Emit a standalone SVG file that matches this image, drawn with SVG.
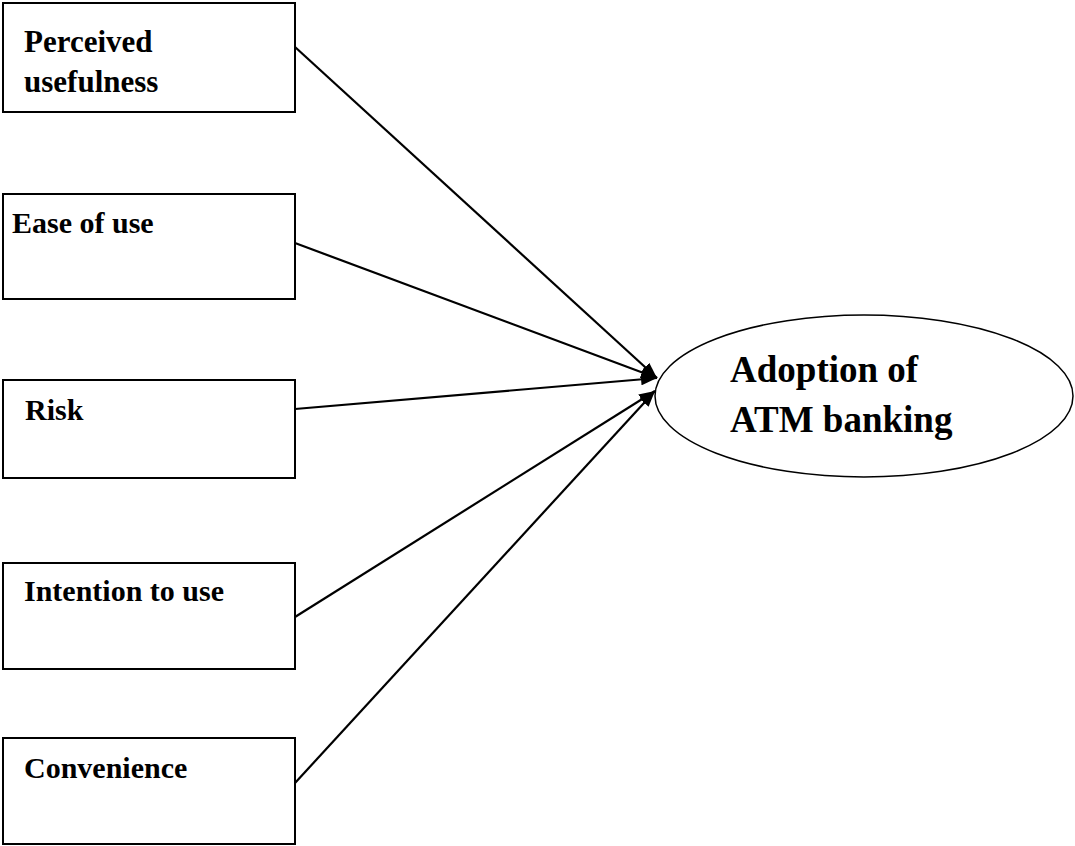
<svg xmlns="http://www.w3.org/2000/svg" width="1075" height="846" viewBox="0 0 1075 846">
<style>
.box{fill:#fff;stroke:#000;stroke-width:2}
.lbl{font-family:"Liberation Serif","Times New Roman",serif;font-weight:bold;font-size:30px;fill:#000}
.lbl1{font-size:31px}
.big{font-family:"Liberation Serif","Times New Roman",serif;font-weight:bold;font-size:37px;fill:#000}
.conn{stroke:#000;stroke-width:2.2;fill:none;marker-end:url(#ah)}
</style>
<defs>
<marker id="ah" markerUnits="userSpaceOnUse" markerWidth="18" markerHeight="12" refX="16" refY="6" orient="auto">
<path d="M0,0 L16,6 L0,12 Z" fill="#000"/>
</marker>
</defs>
<rect width="1075" height="846" fill="#fff"/>
<g id="connectors">
<line class="conn" x1="295" y1="47" x2="657" y2="378"/>
<line class="conn" x1="295" y1="243" x2="657" y2="378"/>
<line class="conn" x1="295" y1="409" x2="657" y2="378"/>
<line class="conn" x1="295" y1="617" x2="655" y2="391"/>
<line class="conn" x1="295" y1="783" x2="655" y2="391"/>
</g>
<g id="perceived-usefulness">
<rect class="box" x="3" y="3" width="292" height="109"/>
<text class="lbl lbl1" x="24" y="52">Perceived</text>
<text class="lbl lbl1" x="24" y="92">usefulness</text>
</g>
<g id="ease-of-use">
<rect class="box" x="3" y="194" width="292" height="105"/>
<text class="lbl" x="12" y="233">Ease of use</text>
</g>
<g id="risk">
<rect class="box" x="3" y="380" width="292" height="98"/>
<text class="lbl" x="25" y="420">Risk</text>
</g>
<g id="intention-to-use">
<rect class="box" x="3" y="563" width="292" height="106"/>
<text class="lbl" x="24" y="601">Intention to use</text>
</g>
<g id="convenience">
<rect class="box" x="3" y="738" width="292" height="106"/>
<text class="lbl" x="24" y="778">Convenience</text>
</g>
<g id="adoption">
<ellipse cx="864" cy="396" rx="209" ry="81" fill="#fff" stroke="#000" stroke-width="1.5"/>
<text class="big" x="730" y="382">Adoption of</text>
<text class="big" x="730" y="432">ATM banking</text>
</g>
</svg>
